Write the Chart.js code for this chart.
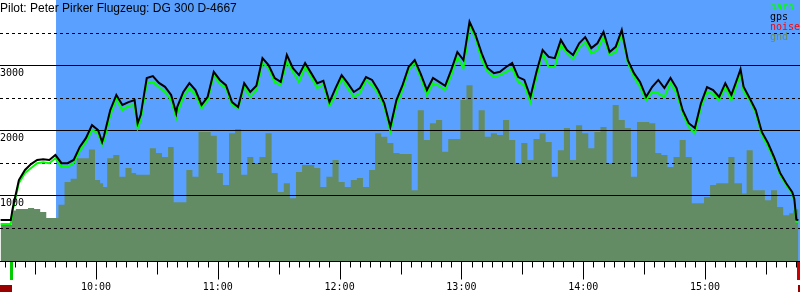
<!DOCTYPE html>
<html>
<head>
<meta charset="utf-8">
<script src="https://cdn.jsdelivr.net/npm/chart.js@4"></script>
<style>
  body { margin: 0; background: #fff; }
  canvas { display: block; }
</style>
</head>
<body>
<canvas id="baroChart" width="800" height="300"></canvas>
<script>
// barogram data, altitudes in m
var times = ["9:13","9:16","9:18","9:19","9:22","9:25","9:28","9:31","9:34","9:37",
  "9:40","9:43","9:46","9:49","9:52","9:55","9:58","10:01","10:03","10:04","10:07",
  "10:10","10:13","10:16","10:19","10:20.5","10:22","10:25","10:28","10:31","10:34","10:37",
  "10:39.5","10:40","10:43","10:46","10:49","10:52","10:55","10:58","11:01","11:04","11:07",
  "11:10","11:13","11:16","11:19","11:22","11:25","11:28","11:31","11:34","11:37",
  "11:40","11:43","11:46","11:49","11:52","11:55","11:58","12:01","12:04","12:07",
  "12:10","12:13","12:16","12:19","12:22","12:25","12:28","12:31","12:34","12:37",
  "12:40","12:43","12:46","12:49","12:52","12:55","12:58","13:01","13:04","13:07",
  "13:10","13:13","13:16","13:19","13:22","13:25","13:28","13:31","13:34","13:37",
  "13:40","13:43","13:46","13:49","13:52","13:55","13:58","14:01","14:04","14:07",
  "14:10","14:13","14:16","14:19","14:22","14:25","14:28","14:31","14:34","14:37",
  "14:40","14:43","14:46","14:49","14:52","14:55","14:58","15:01","15:04","15:07",
  "15:10","15:13","15:16","15:17.5","15:19","15:22","15:25","15:28","15:31","15:34","15:37",
  "15:40","15:43","15:44","15:45","15:46"];

var gps = [615,615,615,800,1230,1385,1475,1540,1550,1540,
  1615,1490,1490,1540,1740,1875,2075,2000,1815,1920,2305,
  2540,2385,2430,2460,2105,2230,2800,2830,2725,2665,2540,
  2260,2355,2585,2720,2615,2385,2510,2895,2770,2690,2430,
  2355,2720,2585,2680,3105,3000,2800,2740,3155,2950,
  2845,3030,2875,2720,2755,2430,2645,2845,2720,2585,
  2645,2815,2770,2615,2410,2045,2460,2690,2970,3075,
  2860,2615,2800,2740,2680,2925,3200,3075,3665,3460,
  3180,2950,2875,2895,2970,3030,2815,2770,2510,2895,
  3230,3125,3105,3385,3230,3155,3335,3430,3260,3335,
  3510,3200,3280,3540,3075,2875,2740,2510,2665,2770,
  2645,2800,2645,2305,2105,2030,2410,2660,2615,2510,
  2720,2540,2800,2935,2665,2490,2305,1970,1800,1585,1340,
  1180,1045,940,620,615];

var baro = [555,555,555,770,1185,1340,1415,1490,1505,1490,
  1565,1430,1430,1490,1680,1815,2000,1950,1770,1845,2230,
  2475,2305,2370,2385,2030,2155,2720,2740,2660,2585,2460,
  2190,2260,2510,2645,2540,2335,2460,2845,2710,2645,2385,
  2335,2660,2510,2615,3030,2950,2740,2690,3050,2895,
  2740,2970,2815,2645,2700,2370,2540,2800,2645,2510,
  2565,2770,2690,2565,2360,1980,2385,2615,2925,3030,
  2800,2540,2720,2680,2615,2845,3125,2950,3600,3415,
  3075,2895,2815,2845,2895,2950,2740,2690,2430,2815,
  3180,2970,2970,3310,3180,3090,3260,3355,3180,3230,
  3430,3155,3200,3490,3030,2815,2665,2460,2585,2565,
  2510,2720,2565,2260,2045,1950,2355,2585,2555,2460,
  2660,2460,2730,2880,2590,2460,2260,1925,1745,1550,1310,
  1155,1020,910,590,585];

var gnd = [540,540,540,760,785,785,800,785,740,645,
  645,850,1200,1250,1565,1565,1700,1230,1180,1125,1565,
  1615,1280,1415,1340,1310,1310,1310,1720,1645,1585,1740,
  890,890,890,1385,1280,1970,1970,1910,1340,1155,1950,
  2015,1310,1585,1490,1585,1950,1340,1045,1180,950,
  1355,1460,1460,1415,1125,1280,1540,1200,1125,1230,
  1260,1125,1385,1950,1895,1800,1645,1630,1630,1075,
  2305,1845,2105,2155,1665,1860,1860,2460,2690,2000,
  2305,1895,1950,1925,2155,1845,1490,1800,1540,1860,
  1950,1815,1280,1690,2030,1540,2075,1950,1720,1970,
  2045,1490,2385,2155,2030,1280,2125,2125,2105,1645,
  1615,1430,1585,1845,1585,875,875,970,1155,1180,
  1180,1585,1180,1180,1025,1690,1075,1075,920,1075,815,
  690,720,760,780,780];

var yGrid = [500, 1000, 1500, 2000, 2500, 3000, 3500];
var yLabels = [1000, 2000, 3000];
var hourLabels = ["10:00","11:00","12:00","13:00","14:00","15:00"];
var startTime = "9:12.7", endTime = "15:46.8";
var releaseTime = "9:40.3";
var takeoffTime = "9:18";
var landingTime = "15:46";
var titleText = "Pilot: Peter Pirker Flugzeug: DG 300 D-4667";
var legendNames = ["baro", "gps", "noise", "gnd"];
var legendColors = ["#00ff00", "#000000", "#ff0000", "#648c64"];

function toMin(s) {
  var p = s.split(":");
  return parseInt(p[0]) * 60 + parseFloat(p[1]);
}

function pts(vals) {
  return times.map(function (t, i) { return { x: toMin(t), y: vals[i] }; });
}

var mono = "10px 'DejaVu Sans Mono', monospace";

var baroPlugin = {
  id: "baroPlugin",
  beforeDatasetsDraw: function (chart) {
    // blue background after release
    var ctx = chart.ctx, a = chart.chartArea, x = chart.scales.x;
    var rx = x.getPixelForValue(toMin(releaseTime));
    ctx.save();
    ctx.fillStyle = "#5aa0ff";
    ctx.fillRect(rx, a.top, a.right - rx, a.bottom - a.top);
    ctx.restore();
  },
  afterDatasetDraw: function (chart, args) {
    if (args.index !== 2) return;
    // horizontal grid above the ground area
    var ctx = chart.ctx, a = chart.chartArea, y = chart.scales.y;
    ctx.save();
    ctx.strokeStyle = "#000";
    ctx.lineWidth = 1;
    yGrid.forEach(function (v) {
      var py = Math.round(y.getPixelForValue(v)) + 0.5;
      ctx.setLineDash(v % 1000 === 0 ? [] : [3, 3]);
      ctx.beginPath();
      ctx.moveTo(a.left, py);
      ctx.lineTo(a.right, py);
      ctx.stroke();
    });
    ctx.restore();
  },
  afterDraw: function (chart) {
    var ctx = chart.ctx, a = chart.chartArea, x = chart.scales.x, y = chart.scales.y;
    ctx.save();
    // y labels
    ctx.fillStyle = "#000";
    ctx.font = mono;
    ctx.textAlign = "left";
    ctx.textBaseline = "alphabetic";
    yLabels.forEach(function (v) {
      ctx.fillText(String(v), 0, Math.round(y.getPixelForValue(v)) + 11);
    });
    // x axis line + ticks
    var base = a.bottom + 0.5;
    ctx.strokeStyle = "#000";
    ctx.lineWidth = 1;
    ctx.beginPath();
    ctx.moveTo(a.left, base);
    ctx.lineTo(a.right, base);
    ctx.stroke();
    var first = Math.ceil(x.min / 5) * 5;
    for (var m = first; m <= x.max; m += 5) {
      var px = Math.round(x.getPixelForValue(m)) + 0.5;
      var len = m % 60 === 0 ? 18 : (m % 30 === 0 ? 13 : 6);
      ctx.beginPath();
      ctx.moveTo(px, base);
      ctx.lineTo(px, base + len);
      ctx.stroke();
    }
    ctx.textAlign = "center";
    ctx.textBaseline = "middle";
    hourLabels.forEach(function (h) {
      ctx.fillText(h, x.getPixelForValue(toMin(h)), a.bottom + 26);
    });
    // takeoff / landing markers
    var tx = x.getPixelForValue(toMin(takeoffTime));
    var lx = x.getPixelForValue(toMin(landingTime));
    ctx.fillStyle = "#00cc00";
    ctx.fillRect(Math.round(tx) - 1, a.bottom + 1, 3, 18);
    ctx.fillStyle = "#cc0000";
    ctx.fillRect(Math.round(lx) - 1, a.bottom + 1, 4, 18);
    ctx.fillStyle = "#990000";
    ctx.fillRect(a.left, a.bottom + 24, Math.round(tx) + 1 - a.left, 7);
    ctx.fillRect(Math.round(lx), a.bottom + 24, a.right - Math.round(lx), 7);
    // title
    ctx.fillStyle = "#000";
    ctx.font = "12px 'Liberation Sans', Arial, sans-serif";
    ctx.textAlign = "left";
    ctx.textBaseline = "alphabetic";
    ctx.fillText(titleText, 0, 12);
    // legend
    ctx.font = mono;
    legendNames.forEach(function (n, i) {
      ctx.fillStyle = legendColors[i];
      ctx.fillText(n, 770, 10 + i * 10);
    });
    ctx.restore();
  }
};

new Chart("baroChart", {
  type: "line",
  data: {
    datasets: [
      {
        label: "gps",
        data: pts(gps),
        borderColor: "#000000",
        borderWidth: 2,
        pointRadius: 0,
        tension: 0,
        fill: false,
      },
      {
        label: "baro",
        data: pts(baro),
        borderColor: "#00ff00",
        borderWidth: 2,
        pointRadius: 0,
        tension: 0,
        fill: false,
      },
      {
        label: "gnd",
        data: pts(gnd),
        borderColor: "#648c64",
        backgroundColor: "#648c64",
        borderWidth: 0,
        pointRadius: 0,
        stepped: "middle",
        fill: { value: -15 },
      },
    ],
  },
  options: {
    responsive: false,
    animation: false,
    layout: { padding: { left: 0, right: 0, top: 0, bottom: 39 } },
    plugins: {
      legend: { display: false },
      tooltip: { enabled: false },
    },
    scales: {
      x: { type: "linear", display: false, min: toMin(startTime), max: toMin(endTime) },
      y: { display: false, min: -15, max: 4000 },
    },
  },
  plugins: [baroPlugin],
});
</script>
</body>
</html>
